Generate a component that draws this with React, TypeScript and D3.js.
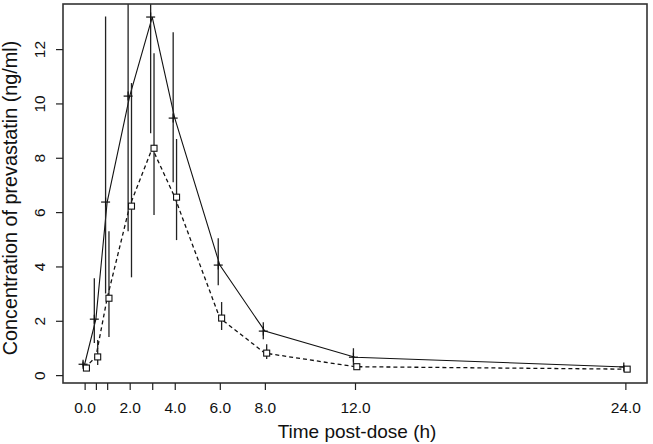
import React, { useRef, useEffect } from 'react';
import * as d3 from 'd3';

// sampling times (h)
const times = [0, 0.5, 1, 2, 3, 4, 6, 8, 12, 24];

// solid line, "+" markers
const meanA = [0.4, 2.06, 6.37, 10.27, 13.18, 9.46, 4.05, 1.62, 0.66, 0.3];
const lowA = [0.32, 1.18, 3.0, 5.3, 8.9, 7.1, 3.31, 1.32, 0.37, 0.25];
const highA = [0.5, 3.57, 13.2, 19.9, 19.5, 12.62, 5.04, 1.95, 0.99, 0.36];

// dashed line, square markers
const meanB = [0.26, 0.67, 2.83, 6.22, 8.35, 6.55, 2.1, 0.81, 0.31, 0.22];
const lowB = [0.2, 0.37, 1.4, 3.6, 5.89, 4.97, 1.66, 0.59, 0.25, 0.18];
const highB = [0.33, 1.29, 5.3, 10.75, 11.85, 8.69, 2.69, 1.14, 0.4, 0.27];

const xTicks = [0, 0.5, 1, 2, 3, 4, 6, 8, 12, 24];
const xLabelled = [0, 2, 4, 6, 8, 12, 24];
const yTicks = [0, 2, 4, 6, 8, 10, 12];

const xTitle = 'Time post-dose (h)';
const yTitle = 'Concentration of prevastatin (ng/ml)';

const W = 653;
const H = 444;
const FONT = '"Liberation Sans", Arial, Helvetica, sans-serif';

const App: React.FC = () => {
  const svgRef = useRef<SVGSVGElement>(null);

  useEffect(() => {
    if (!svgRef.current) return;
    const svg = d3.select(svgRef.current);
    svg.selectAll('*').remove();

    const box = { left: 63, right: 647, top: 4, bottom: 383 };

    const x = d3.scaleLinear().domain([-0.96, 24.96]).range([box.left, box.right]);
    const y = d3.scaleLinear().domain([-0.29, 13.66]).range([box.bottom, box.top]);

    svg
      .append('defs')
      .append('clipPath')
      .attr('id', 'plot-clip')
      .append('rect')
      .attr('x', box.left)
      .attr('y', box.top)
      .attr('width', box.right - box.left)
      .attr('height', box.bottom - box.top);

    const plot = svg.append('g').attr('clip-path', 'url(#plot-clip)');

    const offA = -0.07;
    const offB = 0.08;

    const line = d3
      .line<number>()
      .x((_, i) => x(times[i]))
      .y((d) => y(d));

    // connecting lines
    plot
      .append('path')
      .datum(meanA)
      .attr('fill', 'none')
      .attr('stroke', '#111')
      .attr('stroke-width', 1.1)
      .attr('d', line);

    plot
      .append('path')
      .datum(meanB)
      .attr('fill', 'none')
      .attr('stroke', '#111')
      .attr('stroke-width', 1.3)
      .attr('stroke-dasharray', '4,3')
      .attr('d', line);

    // error bars
    plot
      .selectAll('.errA')
      .data(meanA)
      .enter()
      .append('line')
      .attr('x1', (_, i) => x(times[i] + offA))
      .attr('x2', (_, i) => x(times[i] + offA))
      .attr('y1', (_, i) => y(highA[i]))
      .attr('y2', (_, i) => y(lowA[i]))
      .attr('stroke', '#222')
      .attr('stroke-width', 1.3);

    plot
      .selectAll('.errB')
      .data(meanB)
      .enter()
      .append('line')
      .attr('x1', (_, i) => x(times[i] + offB))
      .attr('x2', (_, i) => x(times[i] + offB))
      .attr('y1', (_, i) => y(highB[i]))
      .attr('y2', (_, i) => y(lowB[i]))
      .attr('stroke', '#222')
      .attr('stroke-width', 1.3);

    // "+" markers
    const plus = plot.selectAll('.plus').data(meanA).enter().append('g');
    plus
      .append('line')
      .attr('x1', (_, i) => x(times[i] + offA) - 4.5)
      .attr('x2', (_, i) => x(times[i] + offA) + 4.5)
      .attr('y1', (d) => y(d))
      .attr('y2', (d) => y(d))
      .attr('stroke', '#111')
      .attr('stroke-width', 1.2);
    plus
      .append('line')
      .attr('x1', (_, i) => x(times[i] + offA))
      .attr('x2', (_, i) => x(times[i] + offA))
      .attr('y1', (d) => y(d) - 4.5)
      .attr('y2', (d) => y(d) + 4.5)
      .attr('stroke', '#111')
      .attr('stroke-width', 1.2);

    // square markers
    plot
      .selectAll('.sq')
      .data(meanB)
      .enter()
      .append('rect')
      .attr('x', (_, i) => x(times[i] + offB) - 3)
      .attr('y', (d) => y(d) - 3)
      .attr('width', 6)
      .attr('height', 6)
      .attr('fill', '#fff')
      .attr('stroke', '#111')
      .attr('stroke-width', 1.1);

    // frame
    svg
      .append('rect')
      .attr('x', box.left)
      .attr('y', box.top)
      .attr('width', box.right - box.left)
      .attr('height', box.bottom - box.top)
      .attr('fill', 'none')
      .attr('stroke', '#333')
      .attr('stroke-width', 1.6);

    // x axis
    const xAxis = svg
      .append('g')
      .attr('transform', `translate(0,${box.bottom})`)
      .call(
        d3
          .axisBottom(x)
          .tickValues(xTicks)
          .tickSize(7)
          .tickPadding(12)
          .tickFormat((d) => (xLabelled.includes(+d) ? d3.format('.1f')(+d) : ''))
      );
    xAxis.select('.domain').remove();
    xAxis.selectAll('line').attr('stroke', '#222').attr('stroke-width', 1.2);
    xAxis
      .selectAll('text')
      .style('font-family', FONT)
      .style('font-size', '15.5px')
      .attr('fill', '#111');

    // y axis
    const yAxis = svg
      .append('g')
      .attr('transform', `translate(${box.left},0)`)
      .call(d3.axisLeft(y).tickValues(yTicks).tickSize(7).tickFormat(d3.format('d')));
    yAxis.select('.domain').remove();
    yAxis.selectAll('line').attr('stroke', '#222').attr('stroke-width', 1.2);
    yAxis
      .selectAll('text')
      .attr('x', null)
      .attr('dy', null)
      .attr('transform', 'translate(-18,0) rotate(-90)')
      .style('text-anchor', 'middle')
      .style('font-family', FONT)
      .style('font-size', '15.5px')
      .attr('fill', '#111');

    // titles
    svg
      .append('text')
      .attr('x', 357)
      .attr('y', 438)
      .attr('text-anchor', 'middle')
      .style('font-family', FONT)
      .style('font-size', '19px')
      .attr('fill', '#111')
      .text(xTitle);

    svg
      .append('text')
      .attr('transform', `translate(17,198) rotate(-90)`)
      .attr('text-anchor', 'middle')
      .style('font-family', FONT)
      .style('font-size', '19.8px')
      .attr('fill', '#111')
      .text(yTitle);
  }, []);

  return (
    <svg
      ref={svgRef}
      width={W}
      height={H}
      style={{ position: 'absolute', left: 0, top: 0, background: '#fff' }}
    />
  );
};

export default App;
